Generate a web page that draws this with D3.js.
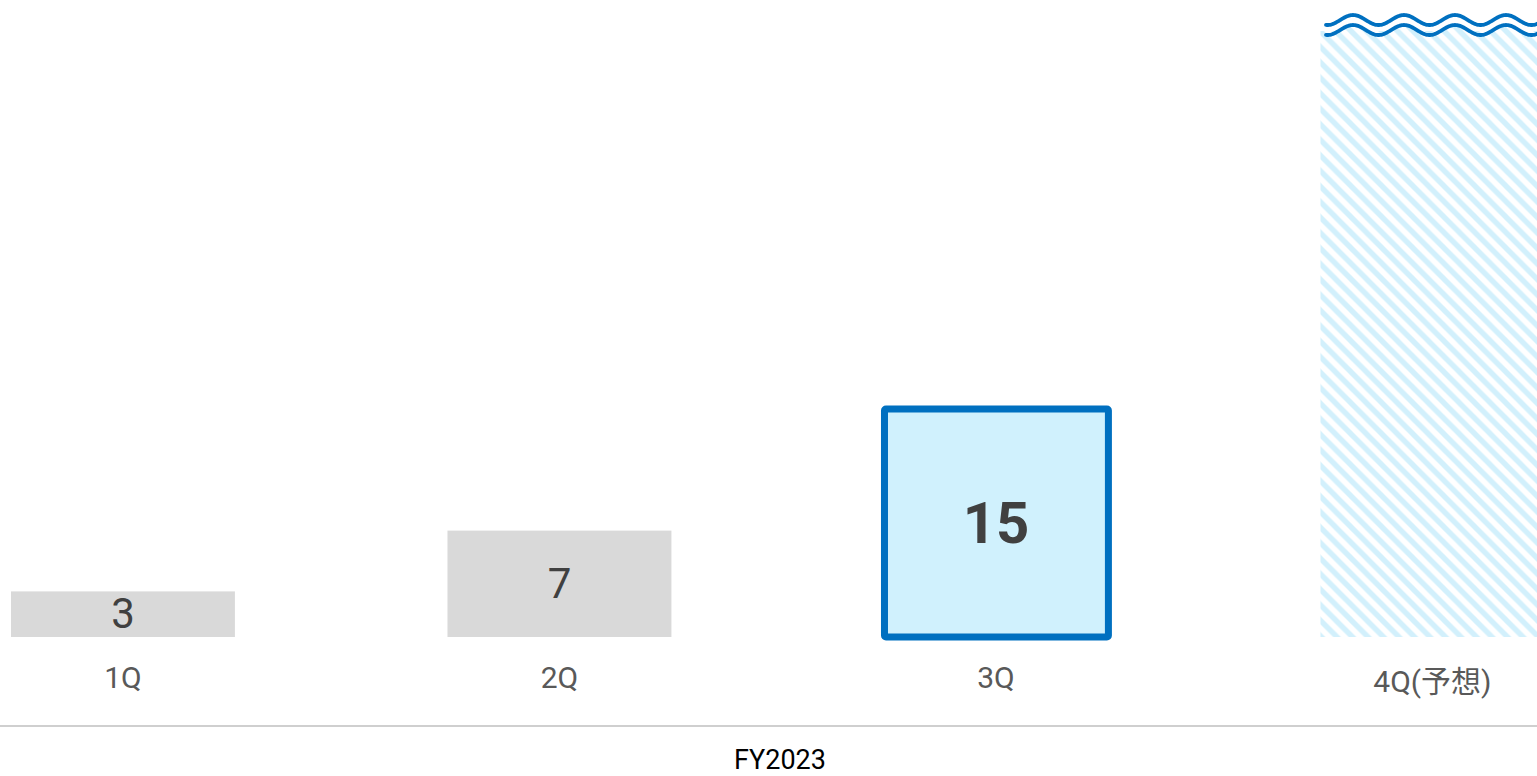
<!DOCTYPE html>
<html><head><meta charset="utf-8">
<script src="https://cdn.jsdelivr.net/npm/d3@7/dist/d3.min.js"></script>
<style>html,body{margin:0;padding:0;background:#fff;overflow:hidden}</style>
</head><body>
<svg id="c" width="1537" height="776"></svg>
<script>
const categories = ["1Q", "2Q", "3Q", "4Q(予想)"];
const values = [3, 7, 15, 40];
const kinds = ["actual", "actual", "current", "forecast"];
const showLabel = [true, true, true, false];
const groupLabel = "FY2023";
const yMax = 40;

const svg = d3.select("#c");
const W = 1537, H = 776;
const baseY = 637;

const x = d3.scaleBand().domain(categories)
  .range([-95.3, -95.3 + 4 * 436.5]).paddingInner(0.487).paddingOuter(0.2435);
const y = d3.scaleLinear().domain([0, yMax]).range([baseY, 29]);

const P = 15.5;
const defs = svg.append("defs");
const pat = defs.append("pattern").attr("id", "hatch").attr("patternUnits", "userSpaceOnUse")
  .attr("width", P).attr("height", P).attr("x", 1320).attr("y", 0);
pat.append("rect").attr("width", P).attr("height", P).attr("fill", "#fff");
pat.append("path").attr("d", `M-3,-3 L${P+3},${P+3} M-3,${P-3} L3,${P+3} M${P-3},-3 L${P+3},3`)
  .attr("stroke", "#d2f0fc").attr("stroke-width", 5.4);

const data = categories.map((c, i) => ({c, v: values[i], k: kinds[i], show: showLabel[i]}));

data.forEach(d => {
  const bx = x(d.c), bw = x.bandwidth(), by = y(d.v), bh = baseY - y(d.v);
  if (d.k === "actual") {
    svg.append("rect").attr("x", bx).attr("y", by).attr("width", bw).attr("height", bh).attr("fill", "#d9d9d9");
  } else if (d.k === "current") {
    svg.append("rect").attr("x", bx + 0.5).attr("y", by).attr("width", bw).attr("height", bh)
      .attr("fill", "#d0f1fd").attr("stroke", "#0070c0").attr("stroke-width", 7)
      .attr("stroke-linejoin", "round").attr("rx", 1.5);
  } else {
    svg.append("rect").attr("x", bx).attr("y", by).attr("width", bw).attr("height", bh).attr("fill", "url(#hatch)");
    const x0 = bx + 5.5, x1 = W + 5;
    const wave = (c) => d3.range(x0, x1, 1).map(px => [px, c - 5 * Math.cos(2 * Math.PI * (px - 1353) / 51)]);
    const w1 = wave(20), w2 = wave(30);
    svg.append("path").attr("d", "M" + [[x0 - 6, 0], [x1, 0], [x1, 31], [x0 - 6, 31]].join("L") + "Z").attr("fill", "#fff");
    svg.append("path").attr("d", d3.line()(w2.concat([[x1, 40], [x0, 40]])) + "Z").attr("fill", "url(#hatch)");
    [w1, w2].forEach(w => svg.append("path").attr("d", d3.line()(w)).attr("fill", "none")
      .attr("stroke", "#0070c0").attr("stroke-width", 3.8).attr("stroke-linecap", "round"));
  }
  if (d.show) {
    const mid = (by + baseY) / 2;
    const fs = d.k === "current" ? 58 : 42;
    svg.append("text").attr("x", bx + bw / 2).attr("y", mid + 0.355 * fs - 1)
      .attr("text-anchor", "middle").attr("font-family", "Roboto").attr("font-size", fs)
      .attr("font-weight", d.k === "current" ? 700 : 400).attr("fill", "#404040").text(d.v);
  }
  svg.append("text").attr("x", x(d.c) + bw / 2)
    .attr("y", d.k === "forecast" ? 692 : 688)
    .attr("text-anchor", "middle").attr("font-family", "Roboto, 'Noto Sans CJK JP'").attr("font-size", 30)
    .attr("fill", "#595959").text(d.c);
});

svg.append("line").attr("x1", 0).attr("x2", W).attr("y1", 726).attr("y2", 726)
  .attr("stroke", "#bfbfbf").attr("stroke-width", 1.5);
svg.append("text").attr("x", 780).attr("y", 769).attr("text-anchor", "middle")
  .attr("font-family", "Roboto").attr("font-size", 27).attr("fill", "#000").text(groupLabel);
</script>
</body></html>
